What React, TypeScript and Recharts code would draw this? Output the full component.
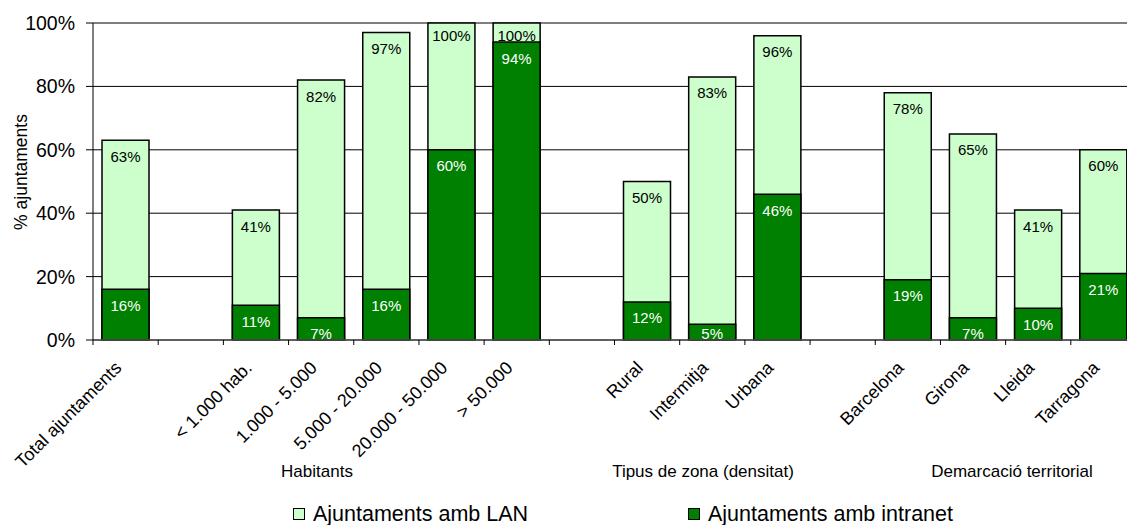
import React from "react";
import { BarChart, Bar, XAxis, YAxis, CartesianGrid, LabelList } from "recharts";

const categories = [
  "Total ajuntaments", "", "< 1.000 hab.", "1.000 - 5.000", "5.000 - 20.000", "20.000 - 50.000", "> 50.000",
  "", "Rural", "Intermitja", "Urbana", "", "Barcelona", "Girona", "Lleida", "Tarragona",
];
const lanValues = [63, null, 41, 82, 97, 100, 100, null, 50, 83, 96, null, 78, 65, 41, 60];
const intranetValues = [16, null, 11, 7, 16, 60, 94, null, 12, 5, 46, null, 19, 7, 10, 21];
const yTicks = [0, 20, 40, 60, 80, 100];
const groupLabels = [
  { text: "Habitants", x: 317 },
  { text: "Tipus de zona (densitat)", x: 703 },
  { text: "Demarcació territorial", x: 1012 },
];
const seriesNames = ["Ajuntaments amb LAN", "Ajuntaments amb intranet"];

const data = categories.map((c, i) => ({
  key: "c" + i,
  name: c,
  lan: lanValues[i],
  intranet: intranetValues[i],
}));

const FONT = "'Liberation Sans', Arial, sans-serif";
const LIGHT = "#CCFFCC";
const DARK = "#008000";
const CHART_W = 1140;
const PLOT_TOP = 23;
const PLOT_LEFT = 93;
const PLOT_RIGHT = 1136;
const BAND = (PLOT_RIGHT - PLOT_LEFT) / categories.length;

const CategoryTick = (props: any) => {
  const { x, y, payload } = props;
  const idx = data.findIndex((d) => d.key === payload.value);
  const label = idx >= 0 ? data[idx].name : "";
  const bx = x - BAND / 2;
  const ax = x - 3;
  const ay = y + 29;
  return (
    <g>
      <line x1={bx} y1={y} x2={bx} y2={y + 5} stroke="#000" strokeWidth={1} />
      {label ? (
        <text
          x={ax}
          y={ay}
          textAnchor="end"
          transform={`rotate(-45, ${ax}, ${ay})`}
          fontSize={18}
          fontFamily={FONT}
          fill="#000"
        >
          {label}
        </text>
      ) : null}
    </g>
  );
};

const makeLabel = (color: string) => (props: any) => {
  const { x, y, width, height, value } = props;
  if (value === null || value === undefined) return null;
  const top = y;
  const bottom = y + height;
  const off = Math.min(16, 12 + (top - PLOT_TOP));
  const cy = Math.min(top + off, bottom - 7);
  return (
    <text
      x={x + width / 2}
      y={cy}
      textAnchor="middle"
      dominantBaseline="central"
      fontSize={15}
      fontFamily={FONT}
      fill={color}
    >
      {`${value}%`}
    </text>
  );
};

export default function App() {
  return (
    <div
      style={{
        position: "absolute",
        left: 0,
        top: 0,
        width: 1127,
        height: 525,
        overflow: "hidden",
        background: "#fff",
        fontFamily: FONT,
      }}
    >
      <BarChart
        width={CHART_W}
        height={525}
        data={data}
        margin={{ top: PLOT_TOP, right: CHART_W - PLOT_RIGHT, bottom: 0, left: 0 }}
      >
        <CartesianGrid vertical={false} stroke="#000" strokeWidth={1} />
        <XAxis
          xAxisId={0}
          dataKey="key"
          height={185}
          interval={0}
          tickLine={false}
          tickSize={0}
          tickMargin={0}
          axisLine={{ stroke: "#555", strokeWidth: 1.5 }}
          tick={<CategoryTick />}
        />
        <XAxis xAxisId={1} dataKey="key" hide />
        <YAxis
          width={PLOT_LEFT}
          domain={[0, 100]}
          ticks={yTicks}
          interval={0}
          tickFormatter={(v: number) => `${v}%`}
          tickSize={7}
          tickMargin={11}
          tickLine={{ stroke: "#000" }}
          axisLine={{ stroke: "#000" }}
          tick={{ fontSize: 19.5, fill: "#000", fontFamily: FONT }}
        />
        <Bar
          xAxisId={0}
          dataKey="lan"
          barSize={47}
          fill={LIGHT}
          stroke="#000"
          strokeWidth={1.5}
          isAnimationActive={false}
        >
          <LabelList dataKey="lan" content={makeLabel("#000")} />
        </Bar>
        <Bar
          xAxisId={1}
          dataKey="intranet"
          barSize={47}
          fill={DARK}
          stroke="#000"
          strokeWidth={1.5}
          isAnimationActive={false}
        >
          <LabelList dataKey="intranet" content={makeLabel("#fff")} />
        </Bar>
      </BarChart>
      <div
        style={{
          position: "absolute",
          left: 21,
          top: 172,
          transform: "translate(-50%, -50%) rotate(-90deg)",
          fontSize: 17.5,
          whiteSpace: "nowrap",
          color: "#000",
        }}
      >
        % ajuntaments
      </div>
      {groupLabels.map((g) => (
        <div
          key={g.text}
          style={{
            position: "absolute",
            left: g.x,
            top: 472,
            transform: "translate(-50%, -50%)",
            fontSize: 17,
            whiteSpace: "nowrap",
            color: "#000",
          }}
        >
          {g.text}
        </div>
      ))}
      {[
        { name: seriesNames[0], color: LIGHT, x: 293 },
        { name: seriesNames[1], color: DARK, x: 688 },
      ].map((l) => (
        <div
          key={l.name}
          style={{
            position: "absolute",
            left: l.x,
            top: 503,
            height: 22,
            display: "flex",
            alignItems: "center",
            whiteSpace: "nowrap",
          }}
        >
          <div
            style={{
              width: 10,
              height: 10,
              border: "1.5px solid #000",
              background: l.color,
              marginRight: 8,
            }}
          />
          <span style={{ fontSize: 21.5, color: "#000", lineHeight: "22px" }}>{l.name}</span>
        </div>
      ))}
    </div>
  );
}
